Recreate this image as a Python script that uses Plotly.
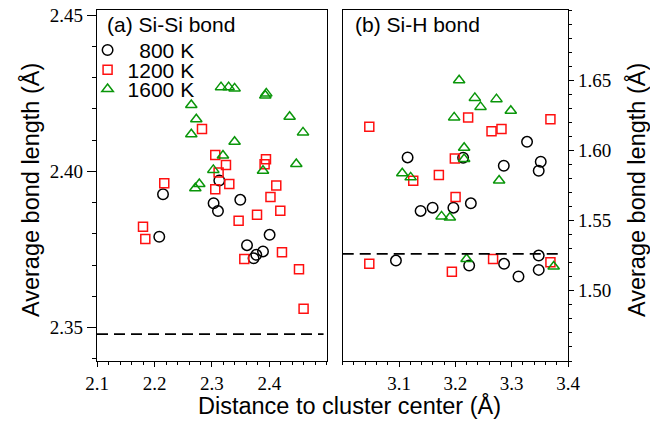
import plotly.graph_objects as go

# ---------------- data ----------------
# Panel (a): Si-Si bond
a_800_x = [2.2148, 2.3127, 2.3028, 2.3104, 2.3492, 2.2083, 2.4002, 2.3609, 2.3887, 2.3770, 2.3723]
a_800_y = [2.3927, 2.3971, 2.3898, 2.3873, 2.3909, 2.3791, 2.3797, 2.3764, 2.3744, 2.3733, 2.3722]

a_1200_x = [2.2826, 2.3057, 2.3243, 2.3115, 2.3939, 2.3915, 2.2170, 2.3301, 2.3057, 2.4118,
            2.4017, 2.4188, 2.3783, 2.3463, 2.1800, 2.1840, 2.4217, 2.3562, 2.4513, 2.4593]
a_1200_y = [2.4136, 2.4053, 2.4021, 2.3997, 2.4039, 2.4023, 2.3962, 2.3960, 2.3943, 2.3955,
            2.3918, 2.3874, 2.3861, 2.3842, 2.3823, 2.3784, 2.3741, 2.3720, 2.3687, 2.3560]

a_1600_x = [2.3157, 2.3289, 2.3393, 2.3944, 2.3927, 2.2640, 2.2727, 2.4350, 2.2640, 2.4583,
            2.3393, 2.3191, 2.3023, 2.3887, 2.4466, 2.2710, 2.2779]
a_1600_y = [2.4270, 2.4270, 2.4266, 2.4250, 2.4243, 2.4213, 2.4167, 2.4175, 2.4119, 2.4125,
            2.4095, 2.4051, 2.4005, 2.4002, 2.4024, 2.3946, 2.3960]

# Panel (b): Si-H bond
b_800_x = [3.1152, 3.2138, 3.2860, 3.3273, 3.3516, 3.3480, 3.1383, 3.1596, 3.1965, 3.2275,
           3.0945, 3.2245, 3.2865, 3.3121, 3.3480, 3.3480]
b_800_y = [1.5950, 1.5948, 1.5891, 1.6061, 1.5919, 1.5855, 1.5569, 1.5592, 1.5592, 1.5623,
           1.5215, 1.5180, 1.5192, 1.5102, 1.5251, 1.5149]

b_1200_x = [3.0472, 3.2227, 3.2642, 3.2819, 3.3688, 3.1991, 3.1707, 3.1252, 3.2004, 3.0472,
            3.1938, 3.2670, 3.3688]
b_1200_y = [1.6168, 1.6235, 1.6137, 1.6152, 1.6221, 1.5943, 1.5825, 1.5784, 1.5668, 1.5192,
            1.5135, 1.5227, 1.5204]

b_1600_x = [3.2067, 3.2346, 3.2730, 3.2447, 3.2984, 3.1979, 3.2156, 3.2156, 3.1057, 3.1206,
            3.2777, 3.1755, 3.1902, 3.2199, 3.3746]
b_1600_y = [1.6500, 1.6374, 1.6365, 1.6310, 1.6282, 1.6235, 1.6019, 1.5939, 1.5837, 1.5808,
            1.5786, 1.5530, 1.5522, 1.5227, 1.5173]

# reference (bulk) bond lengths, dashed lines
ref_a_x = [2.10, 2.494]
ref_a_y = [2.3479, 2.3479]
ref_b_x = [3.00, 3.388]
ref_b_y = [1.5263, 1.5263]

temps = ["800 K", "1200 K", "1600 K"]
legend_names = ["\u2007800 K", "1200 K", "1600 K"]

a_xticks = [2.1, 2.2, 2.3, 2.4]
b_xticks = [3.1, 3.2, 3.3, 3.4]
a_yticks = [2.35, 2.40, 2.45]
b_yticks = [1.50, 1.55, 1.60, 1.65]

# ---------------- style ----------------
BLACK = "#000000"
RED = "#ff1010"
GREEN = "#0a960a"
SANS = "Liberation Sans"
SERIF = "'Liberation Serif', 'Times New Roman', serif"

styles = [
    dict(symbol="circle-open", size=10.5, color=BLACK),
    dict(symbol="square-open", size=9, color=RED),
    dict(symbol="triangle-up-open", size=10, color=GREEN),
]

fig = go.Figure()

a_sets = [(a_800_x, a_800_y), (a_1200_x, a_1200_y), (a_1600_x, a_1600_y)]
b_sets = [(b_800_x, b_800_y), (b_1200_x, b_1200_y), (b_1600_x, b_1600_y)]
legends = ["legend", "legend2", "legend3"]

for i, ((xs, ys), st) in enumerate(zip(a_sets, styles)):
    fig.add_trace(go.Scatter(
        x=xs, y=ys, mode="markers", name=legend_names[i], legend=legends[i],
        marker=dict(symbol=st["symbol"], size=st["size"], color=st["color"],
                    line=dict(width=1.5, color=st["color"])),
        xaxis="x", yaxis="y", showlegend=True))

for i, ((xs, ys), st) in enumerate(zip(b_sets, styles)):
    fig.add_trace(go.Scatter(
        x=xs, y=ys, mode="markers", name=temps[i],
        marker=dict(symbol=st["symbol"], size=st["size"], color=st["color"],
                    line=dict(width=1.5, color=st["color"])),
        xaxis="x2", yaxis="y2", showlegend=False))

fig.add_trace(go.Scatter(x=ref_a_x, y=ref_a_y, mode="lines",
                         line=dict(color=BLACK, width=1.8, dash="11px,6px"),
                         xaxis="x", yaxis="y", showlegend=False, hoverinfo="skip"))
fig.add_trace(go.Scatter(x=ref_b_x, y=ref_b_y, mode="lines",
                         line=dict(color=BLACK, width=1.8, dash="11px,6px"),
                         xaxis="x2", yaxis="y2", showlegend=False, hoverinfo="skip"))

tickfont = dict(family=SERIF, size=19, color=BLACK)
axis_common = dict(showline=True, linecolor=BLACK, linewidth=1.3, mirror=True,
                   showgrid=False, zeroline=False, tickfont=tickfont, automargin=False,
                   ticks="outside", tickcolor=BLACK, tickwidth=1.2)

fig.update_layout(
    width=650, height=425,
    margin=dict(l=97, r=82, t=10, b=64, autoexpand=False),
    paper_bgcolor="white", plot_bgcolor="white",
    font=dict(family=SANS, color=BLACK),
    xaxis=dict(domain=[0, 0.4883], range=[2.1, 2.5], tickmode="array",
               tickvals=a_xticks, ticktext=[f"{v:.1f}" for v in a_xticks], ticklen=5,
               minor=dict(tickmode="linear", tick0=2.1, dtick=0.02, ticks="outside",
                          ticklen=2.5, tickcolor=BLACK, tickwidth=1),
               anchor="y", **axis_common),
    yaxis=dict(domain=[0, 1], range=[2.3393, 2.4517], tickmode="array",
               tickvals=a_yticks, ticktext=[f"{v:.2f}" for v in a_yticks], ticklen=9,
               minor=dict(tickmode="linear", tick0=2.35, dtick=0.01, ticks="outside",
                          ticklen=3.5, tickcolor=BLACK, tickwidth=1),
               anchor="x", **axis_common),
    xaxis2=dict(domain=[0.5217, 1], range=[3.0, 3.4], tickmode="array",
                tickvals=b_xticks, ticktext=[f"{v:.1f}" for v in b_xticks], ticklen=5,
                minor=dict(tickmode="linear", tick0=3.0, dtick=0.02, ticks="outside",
                           ticklen=2.5, tickcolor=BLACK, tickwidth=1),
                anchor="y2", **axis_common),
    yaxis2=dict(domain=[0, 1], range=[1.45, 1.70], tickmode="array", side="right",
                tickvals=b_yticks, ticktext=[f"{v:.2f}" for v in b_yticks], ticklen=5,
                minor=dict(tickmode="linear", tick0=1.45, dtick=0.01, ticks="outside",
                           ticklen=3, tickcolor=BLACK, tickwidth=1),
                anchor="x2", **axis_common),
    showlegend=True,
)

leg_common = dict(font=dict(family=SANS, size=21, color=BLACK), bgcolor="rgba(0,0,0,0)",
                  borderwidth=0, xanchor="left", yanchor="middle", itemclick=False)
fig.update_layout(
    legend=dict(x=-0.02, y=0.885, **leg_common),
    legend2=dict(x=-0.02, y=0.829, **leg_common),
    legend3=dict(x=-0.02, y=0.774, **leg_common),
)

annots = [
    dict(text="(a) Si-Si bond", x=0.017, y=0.997, xanchor="left", yanchor="top",
         font=dict(family=SANS, size=21, color=BLACK)),
    dict(text="(b) Si-H bond", x=0.5434, y=0.997, xanchor="left", yanchor="top",
         font=dict(family=SANS, size=21, color=BLACK)),
    dict(text="Average bond length (Å)", x=-0.1423, y=0.487, textangle=-90,
         xanchor="center", yanchor="middle", font=dict(family=SANS, size=23.5, color=BLACK)),
    dict(text="Average bond length (Å)", x=1.1444, y=0.487, textangle=-90,
         xanchor="center", yanchor="middle", font=dict(family=SANS, size=23.5, color=BLACK)),
    dict(text="Distance to cluster center (Å)", x=0.537, y=-0.128,
         xanchor="center", yanchor="middle", font=dict(family=SANS, size=23.5, color=BLACK)),
]
for a in annots:
    fig.add_annotation(xref="paper", yref="paper", showarrow=False, **a)

fig.write_html("out.html", config={"displayModeBar": False},
               post_script="document.body.style.margin='0';document.body.style.padding='0';")
